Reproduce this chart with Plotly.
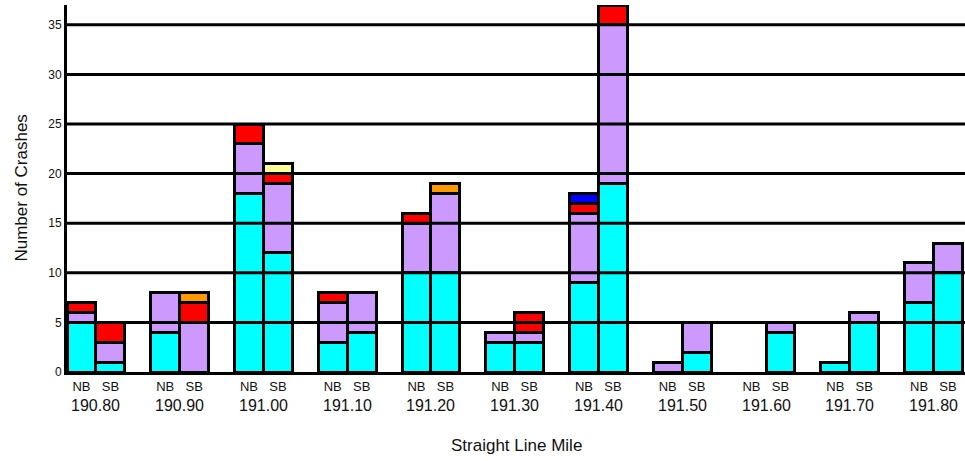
import plotly.graph_objects as go

# ---- data ----
miles = ["190.80", "190.90", "191.00", "191.10", "191.20", "191.30",
         "191.40", "191.50", "191.60", "191.70", "191.80"]
directions = ["NB", "SB"]

cyan_nb = [5, 4, 18, 3, 10, 3, 9, 0, 0, 1, 7]
cyan_sb = [1, 0, 12, 4, 10, 3, 19, 2, 4, 5, 10]
purple_nb = [1, 4, 5, 4, 5, 1, 7, 1, 0, 0, 4]
purple_sb = [2, 5, 7, 4, 8, 1, 16, 3, 1, 1, 3]
red_nb = [1, 0, 2, 1, 1, 0, 1, 0, 0, 0, 0]
red_sb = [2, 2, 1, 0, 0, 2, 2, 0, 0, 0, 0]
orange_nb = [0, 0, 0, 0, 0, 0, 0, 0, 0, 0, 0]
orange_sb = [0, 1, 0, 0, 1, 0, 0, 0, 0, 0, 0]
yellow_nb = [0, 0, 0, 0, 0, 0, 0, 0, 0, 0, 0]
yellow_sb = [0, 0, 1, 0, 0, 0, 0, 0, 0, 0, 0]
blue_nb = [0, 0, 0, 0, 0, 0, 1, 0, 0, 0, 0]
blue_sb = [0, 0, 0, 0, 0, 0, 0, 0, 0, 0, 0]

y_ticks = [0, 5, 10, 15, 20, 25, 30, 35]

# ---- layout helpers ----
BAR_W = 0.346
OFF = BAR_W / 2
FONT = "Liberation Sans, Arial, sans-serif"

series = [
    ("cyan", cyan_nb, cyan_sb, "#00FFFF"),
    ("purple", purple_nb, purple_sb, "#CC99FF"),
    ("red", red_nb, red_sb, "#FF0000"),
    ("orange", orange_nb, orange_sb, "#FF9900"),
    ("yellow", yellow_nb, yellow_sb, "#FFFF99"),
    ("blue", blue_nb, blue_sb, "#0000FF"),
]

x_pos = [i - OFF for i in range(len(miles))] + [i + OFF for i in range(len(miles))]
x_text = [directions[0]] * len(miles) + [directions[1]] * len(miles)

fig = go.Figure()
for name, nb, sb, color in series:
    vals = [v if v else None for v in (nb + sb)]
    fig.add_trace(go.Bar(
        x=x_pos, y=vals, name=name, width=BAR_W,
        marker=dict(color=color, line=dict(color="black", width=3)),
        showlegend=False,
    ))

shapes = []
for t in y_ticks[1:]:
    shapes.append(dict(type="line", xref="paper", x0=0, x1=1, yref="y", y0=t, y1=t,
                       line=dict(color="black", width=3), layer="above"))

annotations = []
for i, m in enumerate(miles):
    annotations.append(dict(x=i, y=-0.092, xref="x", yref="paper", text=m,
                            showarrow=False, font=dict(family=FONT, size=16, color="#111"),
                            xanchor="center", yanchor="middle"))
annotations.append(dict(x=0.5, y=-0.2016, xref="paper", yref="paper", text="Straight Line Mile",
                        showarrow=False, font=dict(family=FONT, size=17, color="#111"),
                        xanchor="center", yanchor="middle"))
annotations.append(dict(x=-0.0512, y=0.5, xref="paper", yref="paper", text="Number of Crashes",
                        showarrow=False, textangle=-90, font=dict(family=FONT, size=17, color="#111"),
                        xanchor="center", yanchor="middle"))

fig.update_layout(
    width=965, height=461,
    margin=dict(l=67, r=0, t=5, b=89),
    barmode="stack",
    plot_bgcolor="white", paper_bgcolor="white",
    font=dict(family=FONT, color="#111"),
    shapes=shapes,
    annotations=annotations,
    xaxis=dict(range=[-BAR_W, len(miles) - 1 + 0.376], tickvals=x_pos, ticktext=x_text,
               tickfont=dict(size=13), showgrid=False, zeroline=False, automargin=False,
               showline=True, linecolor="black", linewidth=3, ticks="", layer="above traces"),
    yaxis=dict(range=[0, 37], tickvals=y_ticks, tickfont=dict(size=12), showgrid=False,
               zeroline=False, showline=True, linecolor="black", linewidth=3, automargin=False,
               ticks="", layer="above traces"),
)

fig.write_html("out.html", config={"displayModeBar": False},
               post_script="document.body.style.margin='0';")
